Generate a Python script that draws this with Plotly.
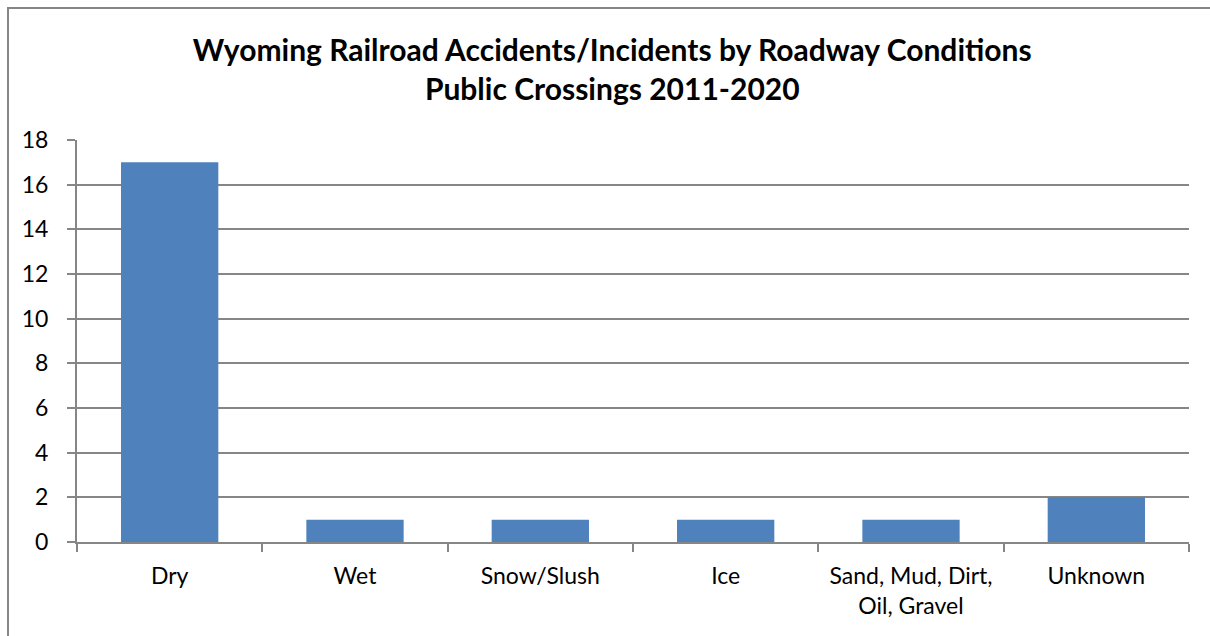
import plotly.graph_objects as go

categories = ["Dry", "Wet", "Snow/Slush", "Ice", "Sand, Mud, Dirt,<br>Oil, Gravel", "Unknown"]
values = [17, 1, 1, 1, 1, 2]
y_ticks = [0, 2, 4, 6, 8, 10, 12, 14, 16, 18]

W, H = 1210, 636
L, R, T, B = 77, 21, 140, 94
pw, ph = W - L - R, H - T - B

fig = go.Figure(go.Bar(x=categories, y=values, marker=dict(color="#4F81BD", line=dict(width=0)), width=0.525))

font_family = "Lato, 'Open Sans', sans-serif"
fig.update_layout(
    width=W, height=H,
    margin=dict(l=L, r=R, t=T, b=B),
    paper_bgcolor="white", plot_bgcolor="white",
    showlegend=False,
    title=dict(text="<b>Wyoming Railroad Accidents/Incidents by Roadway Conditions<br>Public Crossings 2011-2020</b>",
               x=0.506, xanchor="center", y=1 - 61 / H, yanchor="middle",
               font=dict(family=font_family, size=30, color="black")),
    font=dict(family=font_family, size=23, color="black"),
    xaxis=dict(showline=True, linecolor="#868686", linewidth=2, ticks="outside", tickson="boundaries",
               ticklen=8, tickwidth=2, tickcolor="#868686", ticklabelstandoff=12, showgrid=False),
    yaxis=dict(range=[0, 18], tickvals=y_ticks, showline=True, linecolor="#868686", linewidth=2,
               ticks="outside", ticklen=8, tickwidth=2, tickcolor="#868686", gridcolor="#868686",
               gridwidth=2, ticklabelstandoff=14, zeroline=False),
    shapes=[dict(type="rect", xref="paper", yref="paper",
                 x0=(8 - L) / pw, x1=1.2, y0=-0.5, y1=1 + (T - 8) / ph,
                 line=dict(color="#868686", width=2), fillcolor="rgba(0,0,0,0)", layer="below")],
)
fig.write_html("out.html")
